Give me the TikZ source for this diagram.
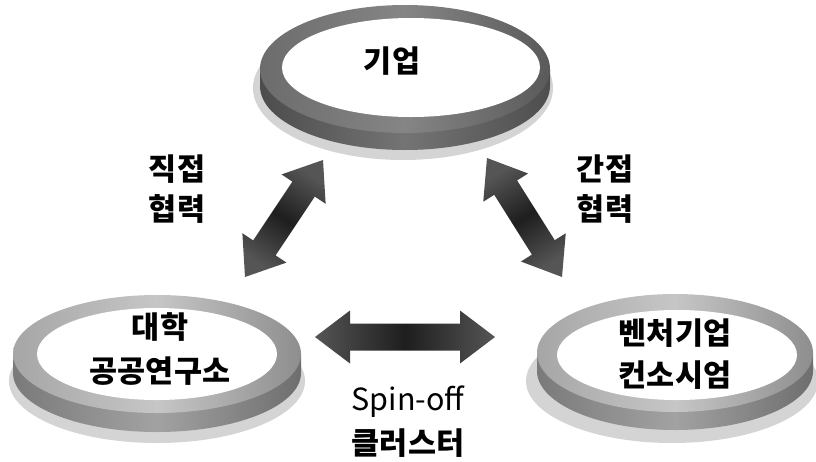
\documentclass[tikz,border=0pt]{standalone}
\usepackage{fontspec}
\newfontfamily\kr{Noto Sans CJK KR}
\usetikzlibrary{calc}
\definecolor{shadowgray}{HTML}{D4D4D4}
\definecolor{arrowend}{HTML}{555555}
\definecolor{arrowmid}{HTML}{1E1E1E}
\definecolor{topfaceL}{HTML}{6C6C6C}
\definecolor{topfaceM}{HTML}{858585}
\definecolor{topfaceR}{HTML}{5A5A5A}
\definecolor{topsideL}{HTML}{4C4C4C}
\definecolor{topsideM}{HTML}{747474}
\definecolor{topsideR}{HTML}{4E4E4E}
\definecolor{lowfaceL}{HTML}{A6A6A6}
\definecolor{lowfaceM}{HTML}{C6C6C6}
\definecolor{lowfaceR}{HTML}{8E8E8E}
\definecolor{lowsideL}{HTML}{7A7A7A}
\definecolor{lowsideM}{HTML}{A2A2A2}
\definecolor{lowsideR}{HTML}{6E6E6E}
\tikzset{
  lbl/.style={font=\kr\bfseries\fontsize{30.5}{#1}\selectfont, align=center, inner sep=0pt},
  lbl/.default=42,
  plainlbl/.style={font=\kr\fontsize{30.5}{36}\selectfont, inner sep=0pt},
  shadowfill/.style={fill=shadowgray},
  topface/.style={left color=topfaceL, right color=topfaceR, middle color=topfaceM},
  topside/.style={left color=topsideL, right color=topsideR, middle color=topsideM},
  lowface/.style={left color=lowfaceL, right color=lowfaceR, middle color=lowfaceM},
  lowside/.style={left color=lowsideL, right color=lowsideR, middle color=lowsideM},
  arrowshade/.style={left color=arrowend, right color=arrowend, middle color=arrowmid},
}
\newcommand\blockarrow[3]{%
  \shade[arrowshade, shading angle=#3] (#1)
    -- ($(#1)!35pt!(#2)!26.5pt!90:(#2)$)
    -- ($(#1)!35pt!(#2)!13.5pt!90:(#2)$)
    -- ($(#2)!35pt!(#1)!13.5pt!-90:(#1)$)
    -- ($(#2)!35pt!(#1)!26.5pt!-90:(#1)$)
    -- (#2)
    -- ($(#2)!35pt!(#1)!26.5pt!90:(#1)$)
    -- ($(#2)!35pt!(#1)!13.5pt!90:(#1)$)
    -- ($(#1)!35pt!(#2)!13.5pt!-90:(#2)$)
    -- ($(#1)!35pt!(#2)!26.5pt!-90:(#2)$)
    -- cycle;}
\begin{document}
\begin{tikzpicture}[x=1pt,y=-1pt]
\useasboundingbox (0,0) rectangle (816,461);
% top disc
\fill[shadowfill] (403,88) ellipse[x radius=150, y radius=72];
\shade[topside] (260,69) -- (260,86) arc[start angle=180, end angle=0, x radius=145, y radius=64] -- (550,69) -- cycle;
\shade[topface] (405,69) ellipse[x radius=145, y radius=64];
\fill[white] (411,67.5) ellipse[x radius=129, y radius=49.5];
% left disc
\fill[shadowfill] (157,381) ellipse[x radius=148, y radius=62];
\shade[lowside] (13,354) -- (13,373) arc[start angle=180, end angle=0, x radius=144, y radius=59] -- (301,354) -- cycle;
\shade[lowface] (157,354) ellipse[x radius=144, y radius=59];
\fill[white] (157,354) ellipse[x radius=120, y radius=46];
% right disc
\fill[shadowfill] (672,381) ellipse[x radius=146, y radius=62];
\shade[lowside] (537,353) -- (537,371) arc[start angle=180, end angle=0, x radius=138, y radius=59] -- (813,353) -- cycle;
\shade[lowface] (675,353) ellipse[x radius=138, y radius=59];
\fill[white] (677,355) ellipse[x radius=120, y radius=45];
% labels
\node[lbl] (top) at (392,61) {기업};
\node[lbl=44] (left) at (160,349) {대학\\공공연구소};
\node[lbl=42] (right) at (675,354) {벤처기업\\컨소시엄};
\node[lbl=40] (direct) at (177,189) {직접\\협력};
\node[lbl=40] (indirect) at (605,189) {간접\\협력};
\node[plainlbl, anchor=base] (spin) at (408,410) {Spin-off};
\node[lbl] (cluster) at (408,443) {클러스터};
% arrows
\coordinate (dl1) at (245,277);
\coordinate (dl2) at (323,160);
\coordinate (dr1) at (487,158);
\coordinate (dr2) at (562,277);
\coordinate (h1) at (315,337);
\coordinate (h2) at (495,337);
\blockarrow{dl1}{dl2}{146.3}
\blockarrow{dr1}{dr2}{32.2}
\blockarrow{h1}{h2}{90}
\end{tikzpicture}
\end{document}
